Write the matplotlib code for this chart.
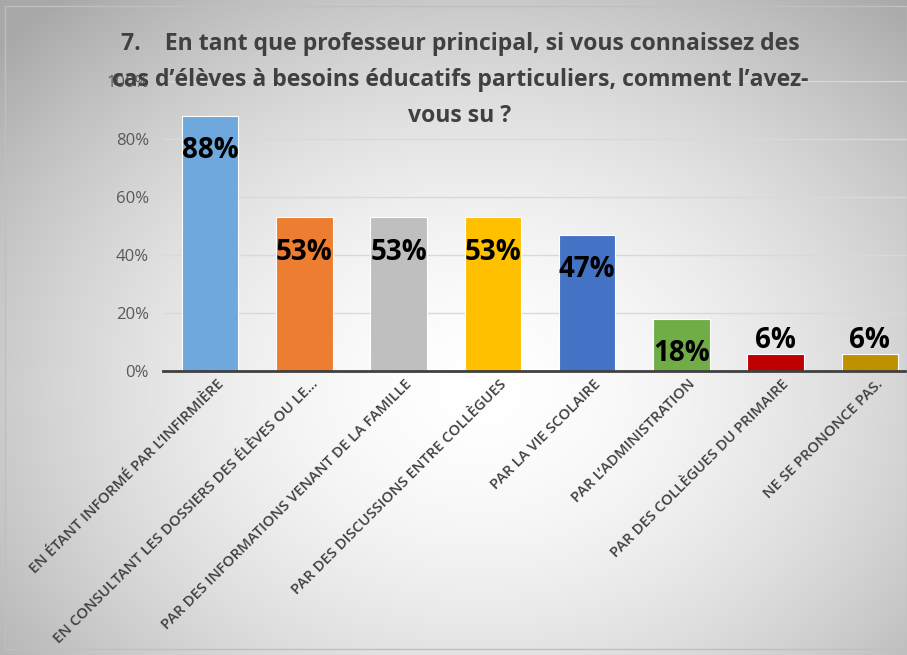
import numpy as np
import matplotlib
matplotlib.use("Agg")
import matplotlib.pyplot as plt
from matplotlib.patches import Rectangle
import matplotlib.transforms as mtrans

categories = [
    "EN ÉTANT INFORMÉ PAR L’INFIRMIÈRE",
    "EN CONSULTANT LES DOSSIERS DES ÉLÈVES OU LE…",
    "PAR DES INFORMATIONS VENANT DE LA FAMILLE",
    "PAR DES DISCUSSIONS ENTRE COLLÈGUES",
    "PAR LA VIE SCOLAIRE",
    "PAR L’ADMINISTRATION",
    "PAR DES COLLÈGUES DU PRIMAIRE",
    "NE SE PRONONCE PAS.",
]
values = [88, 53, 53, 53, 47, 18, 6, 6]
labels = ["88%", "53%", "53%", "53%", "47%", "18%", "6%", "6%"]
colors = ["#6FA8DC", "#ED7D31", "#BFBFBF", "#FFC000", "#4472C4", "#70AD47", "#C00000", "#BF9000"]
yticks = [0, 20, 40, 60, 80, 100]
title = ("7.    En tant que professeur principal, si vous connaissez des\n"
         "cas d’élèves à besoins éducatifs particuliers, comment l’avez-\n"
         "vous su ?")

plt.rcParams['font.family'] = ['Open Sans', 'DejaVu Sans']

W, H = 907, 655
fig = plt.figure(figsize=(W / 100, H / 100), dpi=100)

# background radial gradient
bg = fig.add_axes([0, 0, 1, 1], zorder=-10)
yy, xx = np.mgrid[0:H, 0:W]
cx, cy = 480, 390
r = np.sqrt(((xx - cx) / 540.0) ** 2 + ((yy - cy) / 430.0) ** 2)
val = 1.0 - 0.25 * np.clip(r, 0, 1.2) ** 1.7
img = np.dstack([val, val, val])
bg.imshow(img, aspect='auto', extent=[0, 1, 0, 1], origin='upper')
bg.set_axis_off()
fig.patches.append(Rectangle((5 / W, 6 / H), (W - 5) / W, (H - 12) / H, transform=fig.transFigure,
                             fill=False, edgecolor="#BFBFBF", linewidth=1.0, zorder=5))

# main axes: 0% at y=371, 100% at y=81; x from 163 to 917
left, right = 163 / W, 917 / W
bottom, top = 1 - 371 / H, 1 - 81 / H
ax = fig.add_axes([left, bottom, right - left, top - bottom])
ax.patch.set_alpha(0)

x = np.arange(len(categories))
bars = ax.bar(x, values, width=0.6, color=colors, edgecolor="white", linewidth=0.8, zorder=3)
ax.set_xlim(-0.5, len(categories) - 0.5)
ax.set_ylim(0, 100)
ax.set_yticks(yticks)
ax.set_yticklabels([f"{t}%" for t in yticks], color="#595959", fontsize=12)
ax.yaxis.grid(True, color="#D9D9D9", linewidth=1, zorder=0)
ax.tick_params(axis='y', length=0, pad=10)
ax.tick_params(axis='x', length=0)
for s in ["top", "right", "left"]:
    ax.spines[s].set_visible(False)
ax.spines["bottom"].set_color("#404040")
ax.spines["bottom"].set_linewidth(2)
ax.spines["bottom"].set_zorder(4)

ax.set_xticks(x)
ax.set_xticklabels(categories, rotation=45, ha='right', va='top', rotation_mode='anchor',
                   fontsize=10.7, color="#404040", fontweight='semibold')
for lab in ax.get_xticklabels():
    lab.set_transform(lab.get_transform() + mtrans.ScaledTranslation(0.06, -0.01, fig.dpi_scale_trans))

for b, v, lab in zip(bars, values, labels):
    xc = b.get_x() + b.get_width() / 2
    if v < 10:
        ax.annotate(lab, (xc, v), xytext=(0, -1), textcoords='offset points', ha='center',
                    va='bottom', fontsize=20, fontweight='bold', color='black', zorder=6)
    else:
        ax.annotate(lab, (xc, v), xytext=(0, -25), textcoords='offset points', ha='center',
                    va='center', fontsize=20, fontweight='bold', color='black', zorder=6)

fig.text(460 / W, 1 - 80 / H, title, ha='center', va='center', fontsize=16.6, fontweight='bold',
         color="#404040", linespacing=1.65)

fig.savefig("out.png", dpi=100)
